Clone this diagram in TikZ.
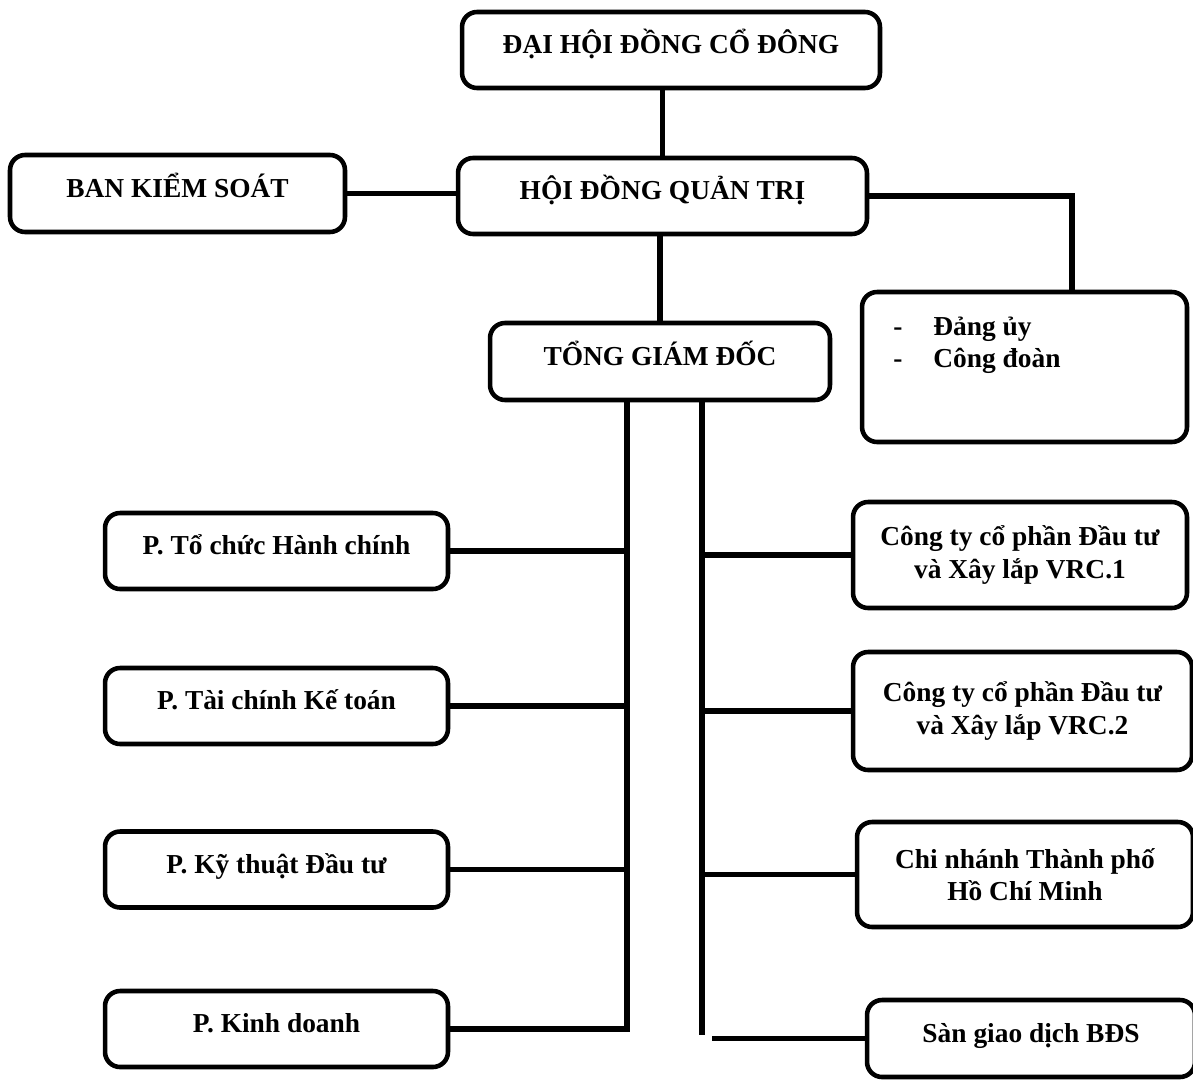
\documentclass[tikz,border=0pt]{standalone}
\usepackage{fontspec}
\setmainfont{Liberation Serif}
\usetikzlibrary{positioning}

\begin{document}
\begin{tikzpicture}[
    x=0.02cm, y=-0.02cm,
    frame/.style={draw=black, line width=2.6pt, rounded corners=0.3cm, font=\fontsize{15.6}{18.5}\selectfont\bfseries},
    unit/.style={frame, text height=12pt, text depth=8pt},
    sub/.style={frame, align=center},
    dept/.style={unit, minimum width=6.86cm, minimum height=1.52cm},
    link/.style={line width=2.9pt}
]
\useasboundingbox (0,0) rectangle (1193,1079);

% top levels
\node[unit, minimum width=8.36cm, minimum height=1.52cm] (dhdcd) at (671,50) {ĐẠI HỘI ĐỒNG CỔ ĐÔNG};
\node[unit, minimum width=8.18cm, minimum height=1.52cm] (hdqt) at (662.5,196) {HỘI ĐỒNG QUẢN TRỊ};
\node[unit, minimum width=6.7cm, minimum height=1.54cm] (bks) at (177.5,193.5) {BAN KIỂM SOÁT};
\node[unit, minimum width=6.8cm, minimum height=1.54cm] (tgd) at (660,361.5) {TỔNG GIÁM ĐỐC};
\node[frame, minimum width=6.5cm, minimum height=3cm] (dangu) at (1024.5,367) {};
\node[anchor=north west, inner sep=0pt, align=left, font=\fontsize{15.6}{18}\selectfont\bfseries] (danguTxt) at (893,317)
    {\makebox[0.8cm][l]{-}Đảng ủy\\ \makebox[0.8cm][l]{-}Công đoàn};

% departments
\node[dept] (ptchc) at (276.5,551) {P. Tổ chức Hành chính};
\node[dept] (ptckt) at (276.5,706) {P. Tài chính Kế toán};
\node[dept] (pktdt) at (276.5,869.5) {P. Kỹ thuật Đầu tư};
\node[dept] (pkd) at (276.5,1029) {P. Kinh doanh};

% units
\node[sub, minimum width=6.68cm, minimum height=2.12cm] (vrc1) at (1020,555) {Công ty cổ phần Đầu tư\\và Xây lắp VRC.1};
\node[sub, minimum width=6.78cm, minimum height=2.36cm] (vrc2) at (1022.5,711) {Công ty cổ phần Đầu tư\\và Xây lắp VRC.2};
\node[sub, minimum width=6.72cm, minimum height=2.1cm] (chinhanh) at (1025,874.5) {Chi nhánh Thành phố\\Hồ Chí Minh};
\node[unit, minimum width=6.56cm, minimum height=1.54cm] (san) at (1031,1038.5) {Sàn giao dịch BĐS};

\coordinate (dgTop) at (1072,292);
\coordinate (trunkL) at (627,400);
\coordinate (trunkR) at (702,400);
\coordinate (trunkRend) at (702,1035);
\coordinate (sanStart) at (712,1038.5);

\draw[link] (hdqt.north) -- (hdqt.north |- dhdcd.south);
\draw[link] (bks.east) -- (bks.east -| hdqt.west);
\draw[link] (hdqt.east) -| (dgTop);
\draw[link] (tgd.north) -- (tgd.north |- hdqt.south);

\draw[link] (trunkL) |- (pkd.east);
\foreach \n in {ptchc,ptckt,pktdt}
    \draw[link] (\n.east) -- (\n.east -| trunkL);

\draw[link] (trunkR) -- (trunkRend);
\foreach \n in {vrc1,vrc2,chinhanh}
    \draw[link] (\n.west) -- (\n.west -| trunkR);
\draw[link] (sanStart) -- (san.west);
\end{tikzpicture}
\end{document}
